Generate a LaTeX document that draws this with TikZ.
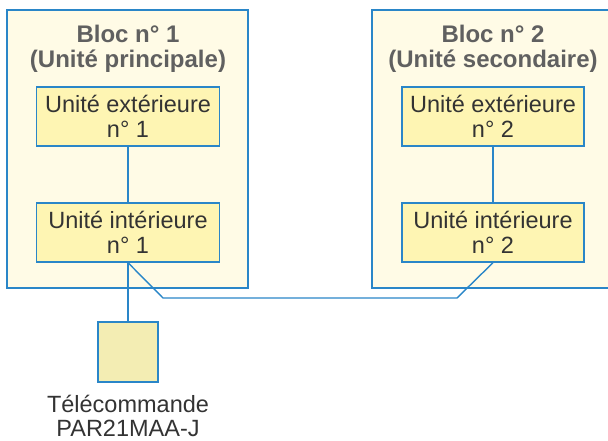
\documentclass[tikz,border=0pt]{standalone}
\usepackage{fontspec}
\setmainfont{Liberation Sans}
\definecolor{bord}{HTML}{2A86C8}
\definecolor{outerfill}{HTML}{FFFBE6}
\definecolor{innerfill}{HTML}{FEF5B3}
\definecolor{remfill}{HTML}{F3EDB3}
\definecolor{txt}{HTML}{333333}
\definecolor{ttl}{HTML}{606060}
\begin{document}
\begin{tikzpicture}[x=1pt,y=-1pt,
  bloc/.style={draw=bord,fill=outerfill,line width=1.4pt,minimum width=241pt,minimum height=278pt,inner sep=0pt},
  unit/.style={draw=bord,fill=innerfill,line width=1.4pt,minimum width=183pt,minimum height=59pt,inner sep=0pt,align=center,text=txt,font=\fontsize{23.5}{25.5}\selectfont},
  remote/.style={draw=bord,fill=remfill,line width=1.4pt,minimum width=60pt,minimum height=60pt,inner sep=0pt},
  title/.style={align=center,text=ttl,font=\bfseries\fontsize{24}{25}\selectfont,inner sep=0pt},
  lab/.style={align=center,text=txt,font=\fontsize{23.5}{24.5}\selectfont,inner sep=0pt},
  wire/.style={draw=bord,line width=1.4pt}]
\useasboundingbox (0,0) rectangle (608,441);
\clip (0,0) rectangle (608,441);
\fill[white] (0,0) rectangle (608,441);
\node[bloc] (b1) at (127.5,149) {};
\node[bloc,minimum width=243pt] (b2) at (493.5,149) {};
\node[title] (t1) at (128,48.5) {Bloc n° 1\\(Unité principale)};
\node[title] (t2) at (493,48.5) {Bloc n° 2\\(Unité secondaire)};
\node[unit] (e1) at (128,116.5) {Unité extérieure\\n° 1};
\node[unit] (i1) at (128,232.5) {Unité intérieure\\n° 1};
\node[unit,minimum width=182pt] (e2) at (493,116.5) {Unité extérieure\\n° 2};
\node[unit,minimum width=182pt] (i2) at (493,232.5) {Unité intérieure\\n° 2};
\node[remote] (r) at (128,352) {};
\node[lab] (rl) at (128,416) {Télécommande\\PAR21MAA-J};
\coordinate (k1) at (163,298);
\coordinate (k2) at (457,298);
\draw[wire] (e1.south) -- (i1.north);
\draw[wire] (e2.south) -- (i2.north);
\draw[wire] (i1.south) -- (r.north);
\draw[wire] (i1.south) -- (k1) -- (k2) -- (i2.south);
\end{tikzpicture}
\end{document}
